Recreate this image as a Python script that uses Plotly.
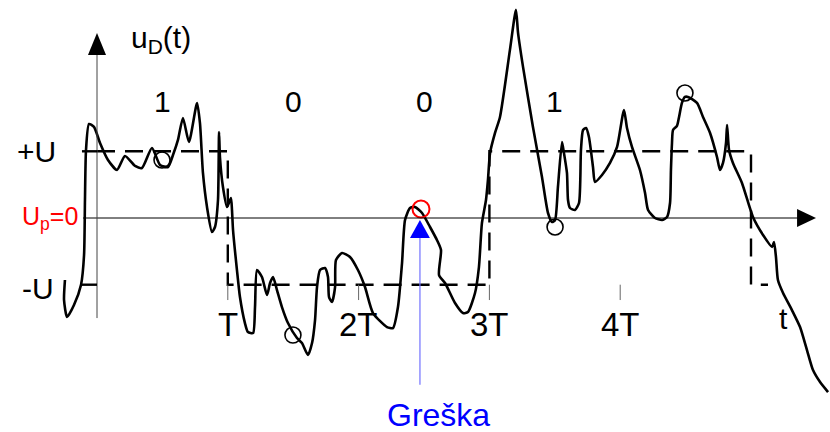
import plotly.graph_objects as go

# ---- data (time in units of T, voltage in units of U) ----
curve_t = [-0.245, -0.252, -0.229, -0.176, -0.122, -0.099, -0.092, -0.084, -0.061, -0.023,
           0.023, 0.084, 0.153, 0.214, 0.291, 0.344, 0.420, 0.482, 0.543, 0.581,
           0.619, 0.657, 0.703, 0.765, 0.787, 0.810, 0.841, 0.879, 0.902, 0.925,
           0.933, 0.940, 0.963, 0.994, 1.024, 1.032, 1.040, 1.070, 1.093, 1.131,
           1.154, 1.193, 1.208, 1.223, 1.261, 1.300, 1.323, 1.346, 1.376, 1.414,
           1.460, 1.529, 1.567, 1.613, 1.644, 1.667, 1.682, 1.705, 1.743, 1.766,
           1.774, 1.797, 1.820, 1.827, 1.873, 1.934, 1.995, 2.049, 2.110, 2.217,
           2.263, 2.301, 2.332, 2.355, 2.393, 2.431, 2.485, 2.546, 2.599, 2.630,
           2.615, 2.661, 2.737, 2.798, 2.836, 2.890, 2.920, 2.943, 2.974, 2.989,
           3.005, 3.043, 3.081, 3.157, 3.203, 3.219, 3.257, 3.333, 3.402, 3.448,
           3.479, 3.502, 3.524, 3.555, 3.570, 3.593, 3.601, 3.616, 3.654, 3.685,
           3.700, 3.716, 3.739, 3.761, 3.792, 3.807, 3.861, 3.922, 3.976, 4.029,
           4.052, 4.090, 4.151, 4.190, 4.213, 4.266, 4.320, 4.358, 4.381, 4.388,
           4.396, 4.404, 4.434, 4.450, 4.472, 4.495, 4.518, 4.587, 4.633, 4.687,
           4.740, 4.763, 4.786, 4.809, 4.817, 4.832, 4.862, 4.931, 5.015, 5.092,
           5.161, 5.176, 5.191, 5.206, 5.245, 5.313, 5.375, 5.428, 5.474, 5.528,
           5.589]
curve_v = [-0.93, -1.23, -1.485, -1.305, -1.0, -0.555, 0.27, 1.02, 1.41, 1.365,
           1.125, 0.87, 0.72, 0.93, 0.78, 0.75, 1.05, 0.795, 0.765, 0.945,
           1.17, 1.50, 1.14, 1.725, 1.425, 0.675, 0.165, -0.21, -0.135, 0.27,
           1.29, 0.915, 0.465, 0.165, 0.30, 0.12, -0.18, -0.78, -1.185, -1.575,
           -1.71, -1.725, -1.335, -0.78, -0.885, -1.155, -0.975, -0.885, -1.08, -1.335,
           -1.575, -1.80, -1.875, -2.055, -1.875, -1.53, -1.035, -0.78, -0.75, -0.885,
           -1.185, -1.26, -1.035, -0.63, -0.525, -0.585, -0.78, -1.035, -1.425, -1.635,
           -1.65, -1.335, -0.675, -0.03, 0.15, 0.165, 0.075, -0.135, -0.33, -0.48,
           -0.855, -0.975, -1.275, -1.425, -1.41, -1.125, -0.735, -0.075, 0.27, 0.57,
           0.975, 1.275, 1.515, 2.52, 3.12, 2.775, 2.265, 1.365, 0.615, 0.075,
           -0.06, -0.03, 0.465, 1.14, 0.975, 0.675, 0.27, 0.15, 0.12, 0.225,
           1.02, 1.32, 1.35, 1.215, 0.765, 0.54, 0.645, 0.825, 1.065, 1.62,
           1.35, 1.065, 0.72, 0.375, 0.12, 0.0, -0.03, 0.015, 0.225, 0.72,
           1.125, 1.32, 1.38, 1.515, 1.725, 1.815, 1.815, 1.725, 1.515, 1.275,
           0.915, 0.72, 0.825, 1.125, 1.395, 1.02, 0.825, 0.525, 0.015, -0.255,
           -0.435, -0.36, -0.585, -0.93, -1.125, -1.38, -1.635, -1.98, -2.28, -2.46,
           -2.61]

# ideal NRZ signal (dashed)
nrz_t = [0, 1, 2, 3, 4, 5, 5.13]
nrz_v = [1, -1, -1, 1, 1, -1, -1]

bit_labels = ["1", "0", "0", "1"]
bit_t = [0.5, 1.5, 2.5, 3.5]

tick_t = [1, 2, 3, 4]
tick_labels = ["T", "2T", "3T", "4T"]

decision_t = [0.497, 1.498, 3.502, 4.495]
decision_v = [0.87, -1.755, -0.135, 1.874]

error_t = 2.477
error_v = 0.135

# ---- geometry constants (in T / U units) ----
X0, X1 = -97 / 130.8, 733 / 130.8
Y0, Y1 = -214 / 66.7, 218 / 66.7
BLACK = "#000000"
FONT = "Liberation Sans, Arial, sans-serif"

fig = go.Figure()

# dashed ideal signal
fig.add_trace(go.Scatter(x=nrz_t, y=nrz_v, mode="lines", line_shape="hv",
                         line=dict(color=BLACK, width=2.4, dash="18px,10px"),
                         hoverinfo="skip"))

# noisy received signal
fig.add_trace(go.Scatter(x=curve_t, y=curve_v, mode="lines",
                         line=dict(color=BLACK, width=2.6, shape="spline", smoothing=0.6),
                         hoverinfo="skip"))

# sampling circles
fig.add_trace(go.Scatter(x=decision_t, y=decision_v, mode="markers",
                         marker=dict(symbol="circle-open", size=16,
                                     line=dict(color=BLACK, width=1.6), color=BLACK),
                         hoverinfo="skip"))
fig.add_trace(go.Scatter(x=[error_t], y=[error_v], mode="markers",
                         marker=dict(symbol="circle-open", size=17,
                                     line=dict(color="#ff0000", width=2), color="#ff0000"),
                         hoverinfo="skip"))

shapes = []
# horizontal axis
shapes.append(dict(type="line", x0=-0.107, x1=5.36, y0=0, y1=0,
                   line=dict(color=BLACK, width=1)))
shapes.append(dict(type="path", path="M 5.352,0.135 L 5.497,0 L 5.352,-0.135 Z",
                   fillcolor=BLACK, line=dict(color=BLACK, width=0)))
# vertical axis
shapes.append(dict(type="line", x0=0, x1=0, y0=-1.50, y1=2.45,
                   line=dict(color="#444444", width=1)))
shapes.append(dict(type="path", path="M -0.069,2.444 L 0,2.774 L 0.069,2.444 Z",
                   fillcolor=BLACK, line=dict(color=BLACK, width=0)))
# level ticks on vertical axis
for lv in (1, -1):
    shapes.append(dict(type="line", x0=-0.115, x1=0, y0=lv, y1=lv,
                       line=dict(color=BLACK, width=2.4)))
# time ticks
for tt in tick_t:
    shapes.append(dict(type="line", x0=tt, x1=tt, y0=-1.0, y1=-1.23,
                       line=dict(color="#666666", width=1)))
# error arrow
ex = error_t - 0.008
shapes.append(dict(type="line", x0=ex, x1=ex, y0=-0.30, y1=-2.50,
                   line=dict(color="#7070ff", width=1.2)))
shapes.append(dict(type="path",
                   path=f"M {ex-0.076},-0.30 L {ex},-0.03 L {ex+0.076},-0.30 Z",
                   fillcolor="#0000ff", line=dict(color="#0000ff", width=0)))
fig.update_layout(shapes=shapes)

ann = []
for bt, bl in zip(bit_t, bit_labels):
    ann.append(dict(x=bt, y=1.74, text=bl, font=dict(size=30)))
for tt, tl in zip(tick_t, tick_labels):
    ann.append(dict(x=tt, y=-1.60, text=tl, font=dict(size=33)))
ann.append(dict(x=5.25, y=-1.5, text="t", font=dict(size=30)))
ann.append(dict(x=0.49, y=2.68, text="u<sub>D</sub>(t)", font=dict(size=30)))
ann.append(dict(x=-0.459, y=1.0, text="+U", font=dict(size=30)))
ann.append(dict(x=-0.451, y=-1.05, text="-U", font=dict(size=30)))
ann.append(dict(x=-0.13, y=0.0, text="U<sub>p</sub>=0", xanchor="right",
                font=dict(size=25, color="#ff0000")))
ann.append(dict(x=2.607, y=-2.95, text="Greška", font=dict(size=32, color="#0000ff")))
for a in ann:
    a.setdefault("showarrow", False)
    a["font"].setdefault("color", BLACK)
    a["font"]["family"] = FONT
    a["xref"] = "x"
    a["yref"] = "y"
fig.update_layout(annotations=ann)

fig.update_layout(
    width=830, height=432, autosize=False,
    margin=dict(l=0, r=0, t=0, b=0),
    paper_bgcolor="white", plot_bgcolor="white",
    showlegend=False,
    xaxis=dict(range=[X0, X1], visible=False, fixedrange=True),
    yaxis=dict(range=[Y0, Y1], visible=False, fixedrange=True),
)

fig.write_html("out.html", config={"displayModeBar": False},
               post_script="document.body.style.margin='0';document.body.style.overflow='hidden';")
